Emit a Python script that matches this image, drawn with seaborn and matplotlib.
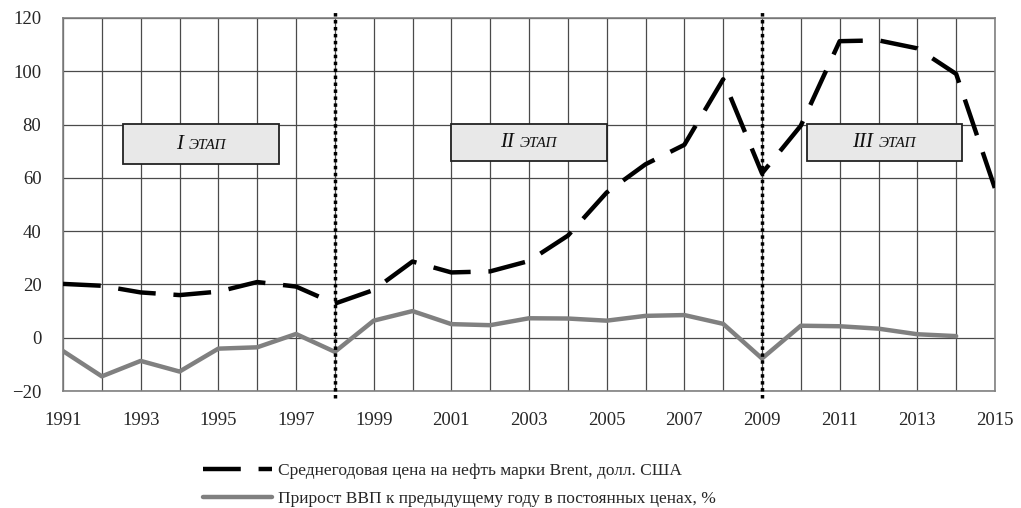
import numpy as np
import pandas as pd
import matplotlib
matplotlib.use("Agg")
import matplotlib.pyplot as plt
import seaborn as sns
from matplotlib.patches import Rectangle
from matplotlib.offsetbox import TextArea, HPacker, AnnotationBbox

# -----------------------------------
# Data
# -----------------------------------
years = list(range(1991, 2016))
brent = [20.2, 19.5, 17.0, 16.0, 17.3, 20.9, 19.2, 12.8, 17.9, 28.6,
         24.5, 24.9, 28.8, 38.3, 54.5, 65.1, 72.4, 97.0, 61.7, 79.6,
         111.3, 111.6, 108.6, 99.0, 56.0]
gdp_years = list(range(1991, 2015))
gdp = [-5.0, -14.5, -8.7, -12.7, -4.1, -3.6, 1.4, -5.3, 6.4, 10.0,
       5.1, 4.7, 7.3, 7.2, 6.4, 8.2, 8.5, 5.2, -7.8, 4.5,
       4.3, 3.4, 1.3, 0.6]

stage_nums = ["I", "II", "III"]
stage_word = "ЭТАП"
stage_x0 = [1992.55, 2001.0, 2010.15]
stage_x1 = [1996.55, 2005.0, 2014.15]
stage_y0 = [65.2, 66.5, 66.5]
stage_y1 = [80.2, 80.2, 80.2]
stage_bounds = [1998, 2009]

brent_label = "Среднегодовая цена на нефть марки Brent, долл. США"
gdp_label = "Прирост ВВП к предыдущему году в постоянных ценах, %"

df_brent = pd.DataFrame({"year": years, "value": brent})
df_gdp = pd.DataFrame({"year": gdp_years, "value": gdp})

# -----------------------------------
# Plot
# -----------------------------------
sns.set_style("white")
plt.rcParams["font.family"] = ["Liberation Serif", "DejaVu Serif"]

fig = plt.figure(figsize=(10.21, 5.08), dpi=100)
ax = fig.add_axes([63 / 1021, 1 - 391 / 508, (995 - 63) / 1021, (391 - 18) / 508])

# grid
for yr in years:
    ax.axvline(yr, color="#4a4a4a", lw=0.9, zorder=0)
for yv in range(-20, 121, 20):
    ax.axhline(yv, color="#4a4a4a", lw=0.9, zorder=0)

sns.lineplot(data=df_brent, x="year", y="value", ax=ax, color="black",
             lw=3.2, label=brent_label, zorder=3)
ax.lines[-1].set_dashes((8.5, 4))
sns.lineplot(data=df_gdp, x="year", y="value", ax=ax, color="#808080",
             lw=3.2, label=gdp_label, zorder=3)

for xb in stage_bounds:
    ax.plot([xb, xb], [-22.5, 123], color="black", lw=2.5,
            linestyle=(0, (1, 1)), clip_on=False, zorder=4)

for num, x0, x1, y0, y1 in zip(stage_nums, stage_x0, stage_x1, stage_y0, stage_y1):
    ax.add_patch(Rectangle((x0, y0), x1 - x0, y1 - y0, facecolor="#e8e8e8",
                           edgecolor="#222222", lw=1.3, zorder=5))
    t1 = TextArea(num, textprops=dict(fontsize=15, style="italic", color="#111111"))
    t2 = TextArea(stage_word, textprops=dict(fontsize=11, style="italic", color="#111111"))
    pack = HPacker(children=[t1, t2], align="baseline", pad=0, sep=4)
    ab = AnnotationBbox(pack, ((x0 + x1) / 2, (y0 + y1) / 2), frameon=False,
                        box_alignment=(0.5, 0.5), zorder=6)
    ax.add_artist(ab)

ax.set_xlim(1991, 2015)
ax.set_ylim(-20, 120)
ax.set_xticks(range(1991, 2016, 2))
ax.set_yticks(range(-20, 121, 20))
ax.set_yticklabels(["\u221220" if v < 0 else str(v) for v in range(-20, 121, 20)])
ax.tick_params(axis="y", labelsize=13.5, length=4.5, width=1, color="#808080", pad=11)
ax.tick_params(axis="x", labelsize=13.5, length=0, pad=15)
ax.set_xlabel("")
ax.set_ylabel("")
for sp in ax.spines.values():
    sp.set_color("#808080")
    sp.set_linewidth(1.2)

ax.get_legend().remove()
handles, labels = ax.get_legend_handles_labels()
fig.legend(handles, labels, loc="upper left", bbox_to_anchor=(0.192, 0.102),
           frameon=False, fontsize=12.5, handlelength=4.0, handletextpad=0.3,
           labelspacing=0.65, borderaxespad=0)

plt.savefig("out.png", dpi=100)
plt.close()
